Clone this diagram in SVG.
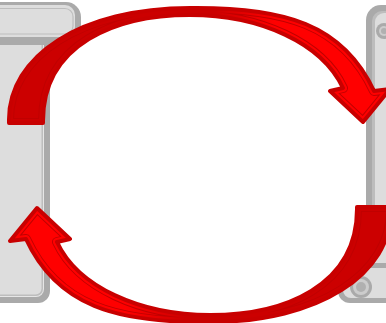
<svg xmlns="http://www.w3.org/2000/svg" xmlns:xlink="http://www.w3.org/1999/xlink" width="386" height="323" viewBox="0 0 386 323">
<style>
.dk{fill:#aaaaaa}
.lt{fill:#dddddd}
.ln{fill:none;stroke:#bdbdbd;stroke-width:1.2}
</style>
<defs>
<linearGradient id="grad" gradientUnits="userSpaceOnUse" x1="215" y1="0" x2="275" y2="0">
<stop offset="0" stop-color="#cc0000"/>
<stop offset="1" stop-color="#ff0000"/>
</linearGradient>
<path id="ap" d="M 9,123 L 9,121 C 8,56 81,8 190,8 C 284,7 343,24 374,91 L 390,89 L 363,122 L 330,91 L 343,88 C 322,43 260,15 190,15 C 116,15 43,44 43,121 L 43,123 Z"/>
<clipPath id="ac" clipPathUnits="userSpaceOnUse"><use xlink:href="#ap"/></clipPath>
<g id="arrow">
<use xlink:href="#ap" fill="url(#grad)"/>
<g clip-path="url(#ac)">
<use xlink:href="#ap" fill="none" stroke="#c00000" stroke-width="10" stroke-linejoin="round"/>
<use xlink:href="#ap" fill="none" stroke="url(#grad)" stroke-width="8" stroke-linejoin="round"/>
</g>
<use xlink:href="#ap" fill="none" stroke="#c80000" stroke-width="4" stroke-linejoin="round"/>
</g>
</defs>
<g id="left-device">
<rect class="dk" x="-30" y="30" width="80" height="273" rx="12"/>
<rect fill="#e6e6e6" x="-30" y="36" width="74" height="261" rx="8"/>
<rect fill="#bdbdbd" x="-30" y="36" width="73" height="260" rx="7"/>
<rect class="lt" x="-30" y="36" width="71.5" height="258.5" rx="6"/>
<rect class="dk" x="-30" y="2" width="111" height="43" rx="15"/>
<rect class="lt" x="-30" y="5" width="105" height="32" rx="10"/>
<rect class="ln" x="-30" y="8.5" width="103" height="25.5" rx="8"/>
</g>
<g id="right-device">
<rect class="dk" x="366" y="5" width="60" height="298" rx="15"/>
<rect fill="#bdbdbd" x="372" y="11" width="50" height="286" rx="10"/>
<rect class="lt" x="375" y="13" width="50" height="282" rx="9"/>
<circle cx="384" cy="31" r="8" fill="#aaaaaa"/>
<circle cx="384" cy="31" r="5" fill="#cccccc"/>
<circle cx="384" cy="31" r="3" fill="#b0b0b0"/>
<rect class="dk" x="338" y="263" width="90" height="40" rx="12"/>
<rect class="lt" x="343" y="268" width="84" height="30" rx="8"/>
<circle cx="361" cy="287" r="11" fill="#aaaaaa"/>
<circle cx="361" cy="287" r="8" fill="#cccccc"/>
<circle cx="361" cy="287" r="5" fill="#b0b0b0"/>
</g>
<g id="connectors">
<use id="arrow-top" xlink:href="#arrow"/>
<use id="arrow-bottom" xlink:href="#arrow" transform="rotate(180 200 165)"/>
</g>
</svg>
